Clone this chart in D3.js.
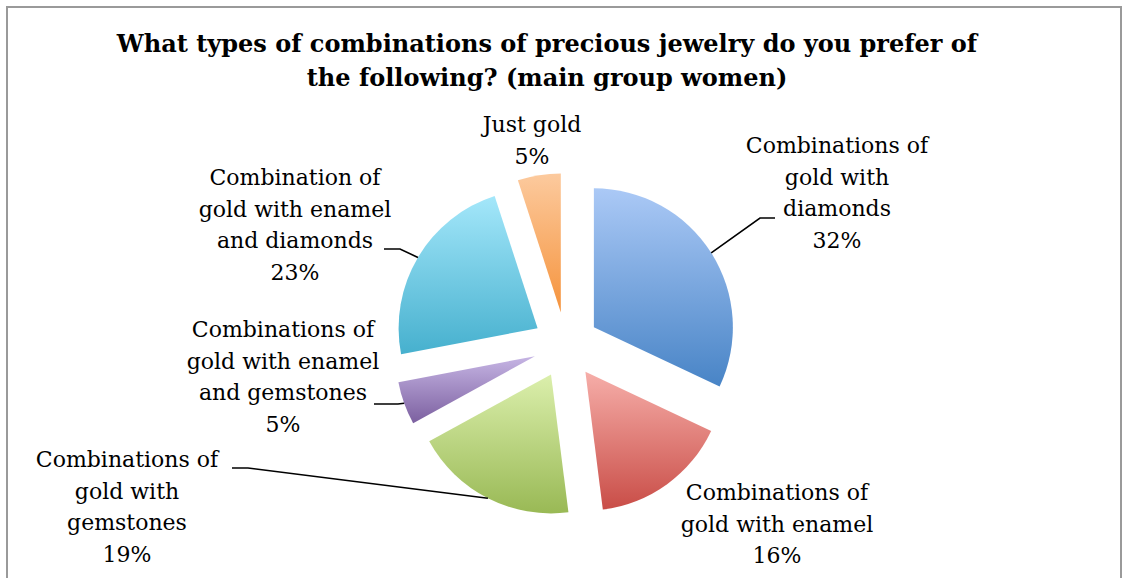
<!DOCTYPE html>
<html>
<head>
<meta charset="utf-8">
<script src="https://cdn.jsdelivr.net/npm/d3@7"></script>
<style>
  html, body { margin: 0; padding: 0; background: #fff; }
  svg { display: block; }
</style>
</head>
<body>
<svg id="chart" width="1123" height="578"></svg>
<script>
// Survey answers, share of respondents (%), clockwise from 12 o'clock
const categories = [
  "Combinations of gold with diamonds",
  "Combinations of gold with enamel",
  "Combinations of gold with gemstones",
  "Combinations of gold with enamel and gemstones",
  "Combination of gold with enamel and diamonds",
  "Just gold"
];
const values = [32, 16, 19, 5, 23, 5];

// Label text broken into lines (percentage appended from the value)
const labelLines = [
  ["Combinations of", "gold with", "diamonds"],
  ["Combinations of", "gold with enamel"],
  ["Combinations of", "gold with", "gemstones"],
  ["Combinations of", "gold with enamel", "and gemstones"],
  ["Combination of", "gold with enamel", "and diamonds"],
  ["Just gold"]
];

const titleLines = [
  "What types of combinations of precious jewelry do you prefer of",
  "the following? (main group women)"
];

// Slice gradient stops: light (top) to dark (bottom)
const sliceColors = [
  ["#abc9f6", "#4884c6"],
  ["#f6aea9", "#c94d47"],
  ["#dbefac", "#99b955"],
  ["#c6b5e4", "#7c60a0"],
  ["#a4e7fa", "#46b0ce"],
  ["#fcca9e", "#f5933c"]
];

// Label placement: centre x, first baseline y, optional leader polyline (label side)
const labelLayout = [
  { x: 837, y: 153, leader: [[775, 218], [760, 218]] },
  { x: 777, y: 500, leader: null },
  { x: 127, y: 467, leader: [[232, 468], [248, 468]] },
  { x: 283, y: 337, leader: [[374, 404], [398, 404]] },
  { x: 295, y: 185, leader: [[384, 249], [400, 249]] },
  { x: 532, y: 132, leader: null }
];

const W = 1123, H = 578;
const cx = 566, cy = 345, radius = 139, explode = 33;
const lineH = 31.7;

const svg = d3.select("#chart");

// Chart area frame (continues past the bottom edge)
svg.append("rect")
  .attr("x", 7).attr("y", 7)
  .attr("width", 1114).attr("height", 600)
  .attr("fill", "#fff")
  .attr("stroke", "#9a9a9a")
  .attr("stroke-width", 2);

// Title
const title = svg.append("text")
  .attr("text-anchor", "middle")
  .attr("font-family", "'DejaVu Serif', serif")
  .attr("font-weight", "bold")
  .attr("font-size", 24)
  .attr("fill", "#000");
titleLines.forEach((t, i) => {
  title.append("tspan").attr("x", 547).attr("y", 52 + i * 34).text(t);
});

// Gradients
const defs = svg.append("defs");
sliceColors.forEach((c, i) => {
  const g = defs.append("linearGradient")
    .attr("id", "grad" + i)
    .attr("x1", 0).attr("y1", 0).attr("x2", 0).attr("y2", 1);
  g.append("stop").attr("offset", "0%").attr("stop-color", c[0]);
  g.append("stop").attr("offset", "100%").attr("stop-color", c[1]);
});

const pie = d3.pie().sort(null).value(d => d)(values);
const arc = d3.arc().innerRadius(0).outerRadius(radius);

const pieG = svg.append("g").attr("transform", `translate(${cx},${cy})`);

function offsetOf(d) {
  const mid = (d.startAngle + d.endAngle) / 2;
  return [explode * Math.sin(mid), -explode * Math.cos(mid)];
}

pieG.selectAll("path.slice")
  .data(pie)
  .join("path")
  .attr("class", "slice")
  .attr("transform", d => { const o = offsetOf(d); return `translate(${o[0]},${o[1]})`; })
  .attr("d", arc)
  .attr("fill", (d, i) => `url(#grad${i})`);

// Leader lines: from the outer edge of each slice at its mid-angle to the label
pie.forEach((d, i) => {
  const lay = labelLayout[i];
  if (!lay.leader) return;
  const mid = (d.startAngle + d.endAngle) / 2;
  const o = offsetOf(d);
  const edge = [cx + o[0] + radius * Math.sin(mid), cy + o[1] - radius * Math.cos(mid)];
  const pts = lay.leader.concat([edge]);
  svg.append("path")
    .attr("d", d3.line()(pts))
    .attr("fill", "none")
    .attr("stroke", "#000")
    .attr("stroke-width", 1.6);
});

// Data labels
pie.forEach((d, i) => {
  const lay = labelLayout[i];
  const lines = labelLines[i].concat([d.data + "%"]);
  const t = svg.append("text")
    .attr("text-anchor", "middle")
    .attr("font-family", "'DejaVu Serif', serif")
    .attr("font-size", 22)
    .attr("fill", "#000");
  lines.forEach((ln, j) => {
    t.append("tspan").attr("x", lay.x).attr("y", lay.y + j * lineH).text(ln);
  });
});
</script>
</body>
</html>
